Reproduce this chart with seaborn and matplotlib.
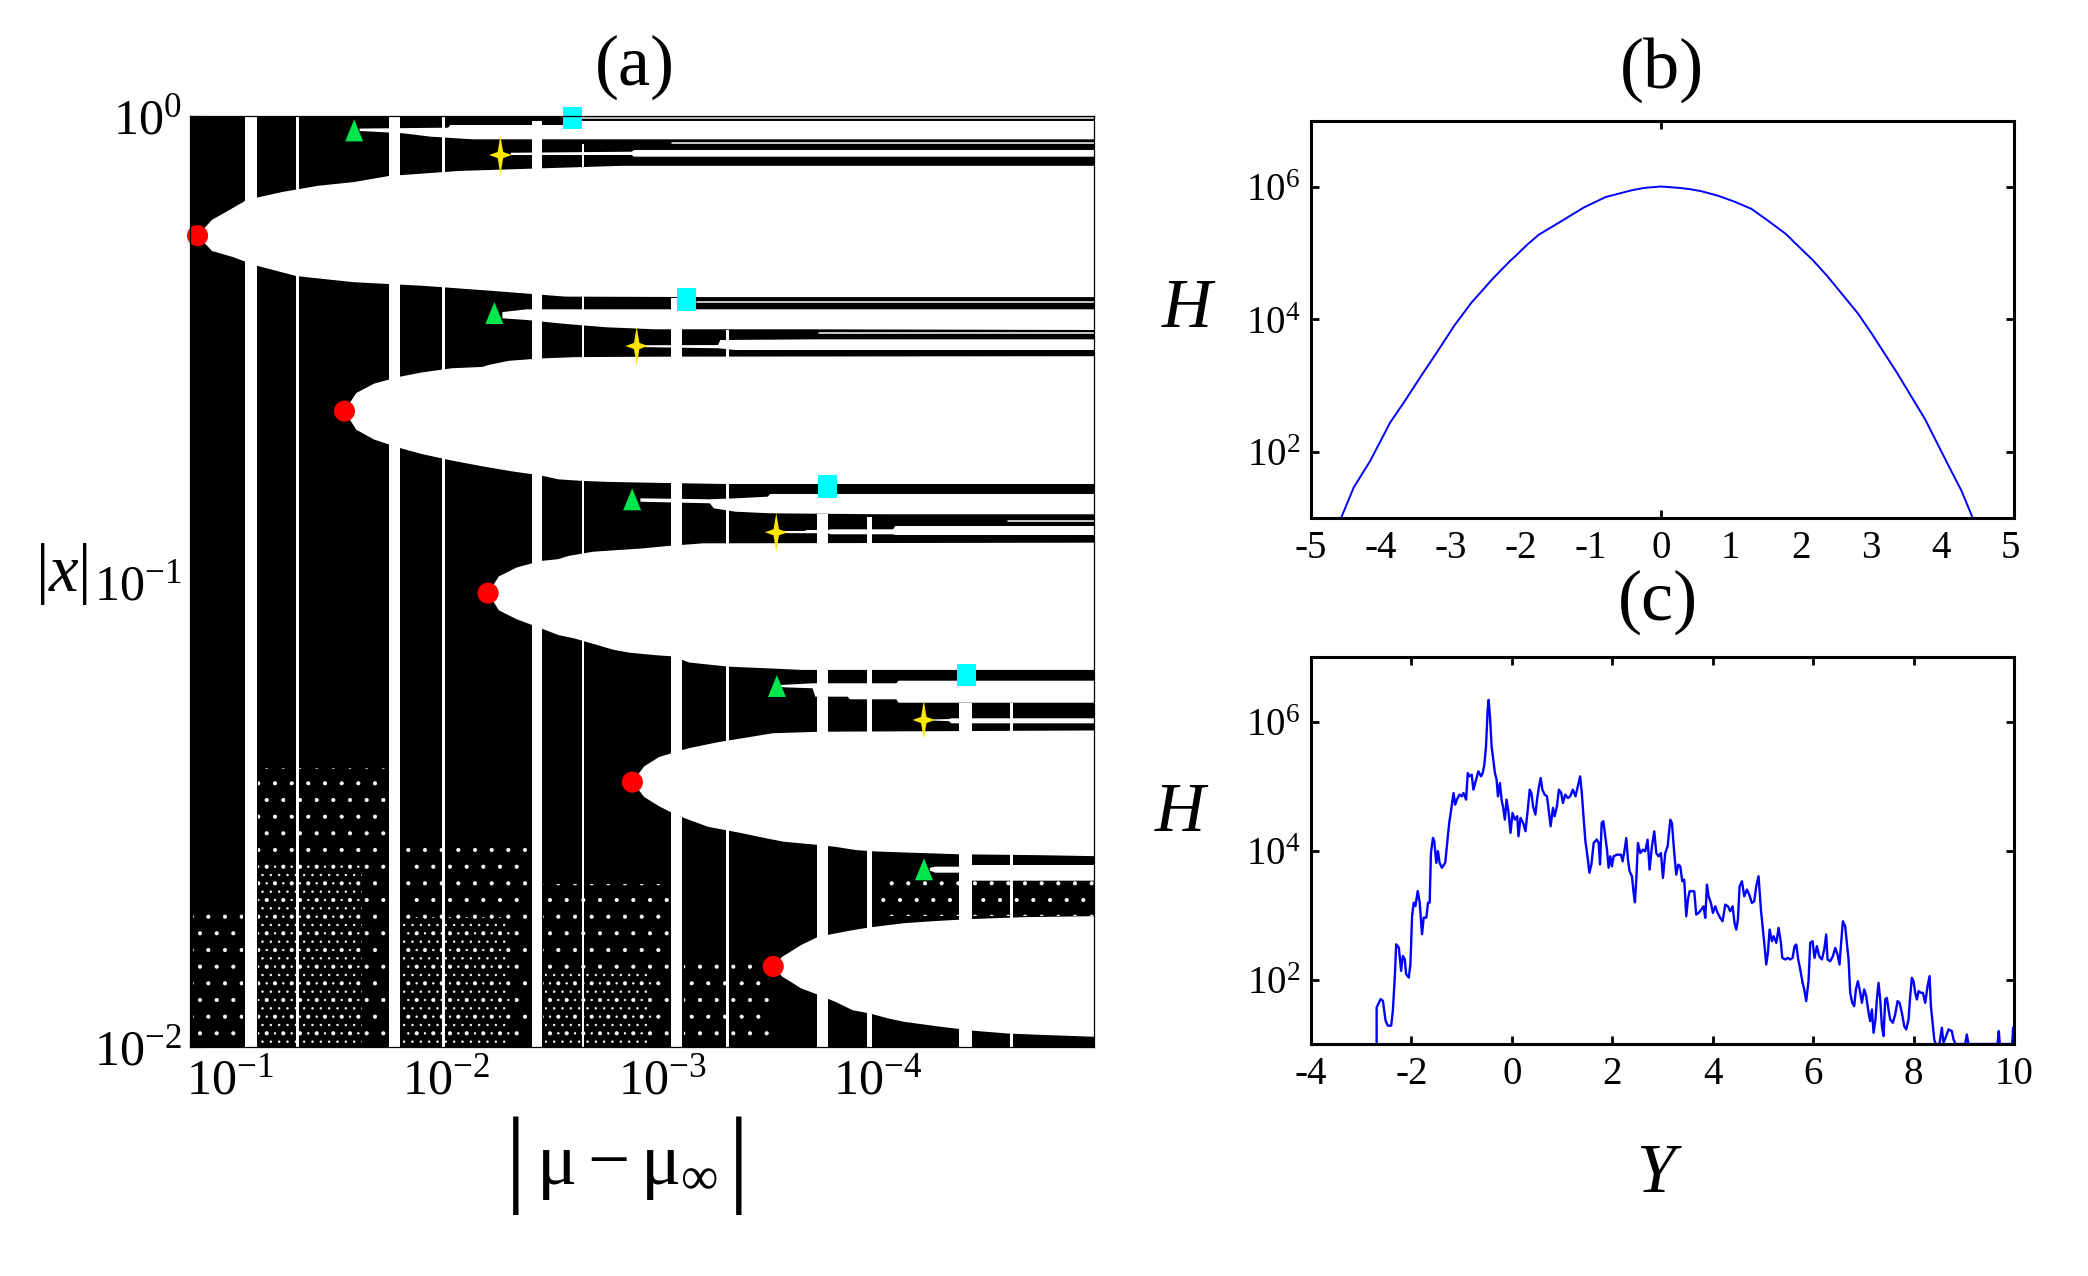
import numpy as np
import matplotlib
matplotlib.use("Agg")
import matplotlib.pyplot as plt
import seaborn as sns
from matplotlib.path import Path
from matplotlib.ticker import (FixedLocator, LogLocator, NullLocator,
                               NullFormatter, LogFormatterSciNotation)

sns.set_style("ticks")
plt.rcParams["font.family"] = ["Liberation Serif", "DejaVu Serif"]
plt.rcParams["mathtext.fontset"] = "custom"
plt.rcParams["mathtext.rm"] = "Liberation Serif"
plt.rcParams["mathtext.it"] = "Liberation Serif:italic"
plt.rcParams["mathtext.bf"] = "Liberation Serif:bold"
plt.rcParams["axes.unicode_minus"] = False
plt.rcParams["axes.edgecolor"] = "black"
plt.rcParams["xtick.color"] = "black"
plt.rcParams["ytick.color"] = "black"
plt.rcParams["text.color"] = "black"
plt.rcParams["hatch.color"] = "white"
plt.rcParams["hatch.linewidth"] = 0.5

# ---------------- panel (a): values in log10 units (|mu - mu_inf|, |x|) ----------------
# white lobes opening from the red points
lobe1_up_mu = [-0.850, -0.917, -0.982, -1.079, -1.245, -1.406, -1.573, -1.734, -2.062, -2.815, -5.0]
lobe1_up_x = [-0.257, -0.223, -0.206, -0.180, -0.163, -0.150, -0.142, -0.129, -0.118, -0.107, -0.107]
lobe1_lo_mu = [-0.850, -0.917, -1.014, -1.111, -1.309, -1.573, -1.901, -2.224, -2.552, -3.208, -5.0]
lobe1_lo_x = [-0.257, -0.290, -0.303, -0.320, -0.344, -0.357, -0.365, -0.376, -0.388, -0.389, -0.389]

lobe2_up_mu = [-1.530, -1.585, -1.667, -1.777, -1.887, -2.025, -2.169, -2.196, -2.290, -2.430, -2.600, -3.000, -5.0]
lobe2_up_x = [-0.634, -0.595, -0.575, -0.561, -0.551, -0.542, -0.539, -0.535, -0.526, -0.521, -0.518, -0.517, -0.516]
lobe2_lo_mu = [-1.530, -1.585, -1.667, -1.777, -1.887, -2.025, -2.162, -2.300, -2.437, -2.520, -2.635, -2.750, -2.850, -3.100, -3.300, -5.0]
lobe2_lo_x = [-0.634, -0.674, -0.695, -0.712, -0.726, -0.740, -0.752, -0.763, -0.772, -0.7805, -0.784, -0.786, -0.787, -0.789, -0.7906, -0.7906]

lobe3_up_mu = [-2.195, -2.245, -2.327, -2.437, -2.520, -2.568, -2.681, -2.811, -2.908, -3.020, -3.190, -5.0]
lobe3_up_x = [-1.025, -0.989, -0.970, -0.956, -0.952, -0.945, -0.936, -0.932, -0.929, -0.924, -0.918, -0.9166]
lobe3_lo_mu = [-2.195, -2.245, -2.327, -2.437, -2.520, -2.592, -2.697, -2.778, -2.851, -2.964, -3.053, -3.125, -3.206, -3.311, -3.513, -3.650, -5.0]
lobe3_lo_x = [-1.025, -1.062, -1.081, -1.100, -1.115, -1.122, -1.136, -1.147, -1.153, -1.158, -1.161, -1.174, -1.178, -1.183, -1.187, -1.190, -1.190]

lobe4_up_mu = [-2.863, -2.918, -2.987, -3.125, -3.262, -3.368, -3.513, -3.730, -5.0]
lobe4_up_x = [-1.431, -1.397, -1.377, -1.358, -1.345, -1.337, -1.326, -1.3227, -1.320]
lobe4_lo_mu = [-2.863, -2.918, -2.987, -3.060, -3.125, -3.214, -3.294, -3.373, -3.485, -3.564, -3.724, -3.803, -3.899, -3.994, -4.146, -4.377, -4.759, -5.0]
lobe4_lo_x = [-1.431, -1.463, -1.483, -1.500, -1.512, -1.527, -1.534, -1.541, -1.552, -1.559, -1.566, -1.570, -1.577, -1.580, -1.5825, -1.586, -1.588, -1.590]

lobe5_up_mu = [-3.515, -3.557, -3.596, -3.644, -3.724, -3.803, -3.883, -3.963, -4.122, -4.281, -4.441, -4.680, -5.0]
lobe5_up_x = [-1.827, -1.806, -1.795, -1.781, -1.763, -1.756, -1.749, -1.743, -1.734, -1.729, -1.725, -1.721, -1.719]
lobe5_lo_mu = [-3.515, -3.557, -3.596, -3.644, -3.724, -3.803, -3.883, -3.963, -4.042, -4.122, -4.281, -4.441, -4.600, -4.759, -5.0]
lobe5_lo_x = [-1.827, -1.849, -1.860, -1.874, -1.888, -1.903, -1.921, -1.928, -1.938, -1.946, -1.956, -1.965, -1.971, -1.974, -1.978]

# thinner white gaps opening from the green triangles
gw1_up_mu = [-1.600, -2.010, -2.020, -2.540, -2.550, -5.0]
gw1_up_x = [-0.0270, -0.0251, -0.0193, -0.0193, -0.0107, -0.0107]
gw1_lo_mu = [-1.600, -1.665, -1.803, -1.929, -2.125, -5.0]
gw1_lo_x = [-0.0322, -0.0337, -0.0372, -0.0444, -0.0501, -0.0501]

gw2_up_mu = [-2.261, -2.373, -5.0]
gw2_up_x = [-0.4213, -0.4153, -0.4153]
gw2_lo_mu = [-2.261, -2.373, -2.521, -2.614, -2.744, -2.966, -3.690, -5.0]
gw2_lo_x = [-0.4346, -0.4382, -0.4453, -0.4490, -0.4539, -0.4582, -0.4582, -0.4597]

gw3_up_mu = [-2.900, -3.220, -3.340, -3.490, -3.500, -5.0]
gw3_up_x = [-0.8213, -0.8234, -0.8213, -0.8178, -0.8120, -0.8120]
gw3_lo_mu = [-2.900, -3.222, -3.240, -3.340, -3.500, -4.030, -5.0]
gw3_lo_x = [-0.8286, -0.8320, -0.8428, -0.8500, -0.8535, -0.8556, -0.8556]

gw4_up_mu = [-3.550, -3.697, -4.085, -4.095, -5.0]
gw4_up_x = [-1.2223, -1.2187, -1.2187, -1.2131, -1.2131]
gw4_lo_mu = [-3.550, -3.697, -3.710, -3.859, -3.870, -4.085, -4.095, -5.0]
gw4_lo_x = [-1.2270, -1.2294, -1.2474, -1.2474, -1.2531, -1.2531, -1.2604, -1.2604]

gw5_up_mu = [-4.240, -4.265, -4.377, -4.390, -5.0]
gw5_up_x = [-1.6150, -1.6126, -1.6126, -1.6090, -1.6090]
gw5_lo_mu = [-4.240, -4.265, -4.377, -4.390, -5.0]
gw5_lo_x = [-1.6210, -1.6255, -1.6255, -1.6427, -1.6427]

# gaps opening from the yellow stars
yw1_up_mu = [-2.300, -2.860, -2.870, -5.0]
yw1_up_x = [-0.0790, -0.0767, -0.0730, -0.0730]
yw1_lo_mu = [-2.300, -2.860, -2.870, -5.0]
yw1_lo_x = [-0.0838, -0.0838, -0.0874, -0.0874]

yw2_up_mu = [-2.920, -3.260, -3.270, -3.700, -5.0]
yw2_up_x = [-0.4925, -0.4920, -0.4812, -0.4798, -0.4798]
yw2_lo_mu = [-2.920, -3.260, -3.340, -5.0]
yw2_lo_x = [-0.4965, -0.4990, -0.5027, -0.5027]

yw3_up_mu = [-3.560, -3.660, -3.670, -3.770, -3.780, -4.070, -4.080, -5.0]
yw3_up_x = [-0.8915, -0.8915, -0.8894, -0.8894, -0.8879, -0.8879, -0.8808, -0.8808]
yw3_lo_mu = [-3.560, -3.770, -3.780, -4.070, -4.080, -5.0]
yw3_lo_x = [-0.8960, -0.8965, -0.8986, -0.8986, -0.9001, -0.9001]

yw4_up_mu = [-4.240, -4.328, -4.340, -5.0]
yw4_up_x = [-1.2965, -1.2955, -1.2939, -1.2939]
yw4_lo_mu = [-4.240, -4.328, -4.340, -5.0]
yw4_lo_x = [-1.2985, -1.3000, -1.3047, -1.3047]

# hair-thin white lines running to the right edge
thin_mu_start = [-2.630, -3.046, -3.162, -3.727, -4.603]
thin_mu_end = [-5.0, -5.0, -5.0, -5.0, -5.0]
thin_x = [-0.0049, -0.0580, -0.3990, -0.4660, -0.8694]

# vertical periodic windows (white stripes)
stripe_mu_a = [-1.070, -1.304, -1.737, -1.980, -2.397, -2.628, -3.044, -3.295, -3.718, -3.950, -4.375, -4.612]
stripe_mu_b = [-1.126, -1.318, -1.789, -1.994, -2.445, -2.638, -3.093, -3.309, -3.770, -3.970, -4.435, -4.626]
stripe_x_top = [0.0, 0.0, 0.0, 0.0, -0.011, -0.060, -0.392, -0.460, -0.855, -0.862, -1.262, -1.262]

# speckled (chaotic) areas near the bottom
speck_mu_a = [-0.830, -1.130, -1.795, -2.450, -3.100, -4.000]
speck_mu_b = [-1.062, -1.735, -2.395, -3.040, -3.500, -5.0]
speck_x_top = [-1.70, -1.40, -1.55, -1.65, -1.80, -1.6427]
speck_x_bot = [-2.0, -2.0, -2.0, -2.0, -2.0, -1.719]
dense_mu_a = [-1.130, -1.800, -2.460]
dense_mu_b = [-1.610, -2.300, -2.950]
dense_x_top = [-1.60, -1.72, -1.84]

# markers
red_mu = [-0.850, -1.530, -2.195, -2.863, -3.515]
red_x = [-0.257, -0.634, -1.025, -1.431, -1.827]
green_mu = [-1.575, -2.224, -2.862, -3.532, -4.213]
green_x = [-0.031, -0.4232, -0.8234, -1.2245, -1.6183]
cyan_mu = [-2.584, -3.115, -3.768, -4.409]
cyan_x = [-0.0049, -0.3946, -0.7963, -1.2015]
yellow_mu = [-2.252, -2.883, -3.529, -4.212]
yellow_x = [-0.0838, -0.4941, -0.8943, -1.2975]

# ---------------- panel (b) ----------------
hb_Y = [-4.57, -4.39, -4.15, -3.87, -3.67, -3.43, -3.19, -2.95, -2.71, -2.39, -2.15, -2.066,
        -1.91, -1.745, -1.43, -1.105, -0.79, -0.464, -0.384, -0.224, 0.00, 0.256, 0.416,
        0.576, 0.82, 1.057, 1.30, 1.537, 1.78, 2.18, 2.378, 2.58, 2.82, 3.02, 3.38, 3.78,
        4.10, 4.30, 4.46]
hb_logH = [1.00, 1.46, 1.87, 2.44, 2.75, 3.14, 3.52, 3.91, 4.25, 4.63, 4.89, 4.97,
           5.13, 5.28, 5.48, 5.69, 5.85, 5.94, 5.96, 5.99, 6.01, 5.99, 5.97,
           5.94, 5.87, 5.78, 5.67, 5.49, 5.30, 4.89, 4.66, 4.40, 4.09, 3.78, 3.19, 2.49,
           1.82, 1.41, 1.00]

# ---------------- panel (c) ----------------
hc_Y = [
    -2.693, -2.693, -2.614, -2.568, -2.515, -2.469, -2.403, -2.370, -2.330, -2.304,
    -2.251, -2.205, -2.172, -2.132, -2.106, -2.053, -2.020, -1.987, -1.954, -1.921,
    -1.875, -1.835, -1.789, -1.756, -1.703, -1.670, -1.637, -1.611, -1.571, -1.545,
    -1.505, -1.472, -1.439, -1.393, -1.327, -1.294, -1.248, -1.208, -1.162, -1.129,
    -1.096, -1.043, -0.997, -0.964, -0.911, -0.878, -0.845, -0.799, -0.766, -0.713,
    -0.667, -0.614, -0.581, -0.548, -0.515, -0.482, -0.462, -0.436, -0.403, -0.370,
    -0.337, -0.304, -0.277, -0.238, -0.205, -0.172, -0.139, -0.106, -0.073, -0.026,
    0.013, 0.059, 0.106, 0.132, 0.172, 0.224, 0.271, 0.310, 0.356, 0.389,
    0.422, 0.469, 0.502, 0.541, 0.574, 0.607, 0.653, 0.700, 0.739, 0.772,
    0.818, 0.851, 0.898, 0.937, 0.983, 1.017, 1.063, 1.116, 1.162, 1.215,
    1.267, 1.314, 1.360, 1.393, 1.426, 1.465, 1.505, 1.545, 1.584, 1.630,
    1.690, 1.729, 1.756, 1.789, 1.822, 1.861, 1.894, 1.927, 1.960, 1.993,
    2.027, 2.093, 2.173, 2.206, 2.246, 2.279, 2.312, 2.345, 2.392, 2.425,
    2.451, 2.478, 2.511, 2.557, 2.610, 2.657, 2.703, 2.743, 2.790, 2.836,
    2.876, 2.922, 2.969, 3.009, 3.055, 3.102, 3.155, 3.188, 3.234, 3.274,
    3.314, 3.354, 3.394, 3.433, 3.473, 3.506, 3.539, 3.586, 3.632, 3.672,
    3.719, 3.772, 3.818, 3.852, 3.885, 3.918, 3.964, 4.004, 4.050, 4.097,
    4.150, 4.197, 4.250, 4.303, 4.349, 4.396, 4.435, 4.469, 4.502, 4.535,
    4.581, 4.628, 4.681, 4.727, 4.780, 4.827, 4.867, 4.913, 4.960, 4.993,
    5.026, 5.066, 5.099, 5.133, 5.179, 5.212, 5.266, 5.312, 5.358, 5.385,
    5.445, 5.497, 5.544, 5.591, 5.630, 5.664, 5.703, 5.743, 5.790, 5.823,
    5.862, 5.908, 5.942, 5.988, 6.028, 6.074, 6.121, 6.174, 6.221, 6.260,
    6.287, 6.340, 6.393, 6.440, 6.486, 6.526, 6.552, 6.592, 6.638, 6.672,
    6.705, 6.738, 6.778, 6.818, 6.851, 6.891, 6.938, 6.971, 7.017, 7.057,
    7.104, 7.136, 7.170, 7.203, 7.242, 7.269, 7.302, 7.336, 7.369, 7.402,
    7.435, 7.468, 7.501, 7.534, 7.587, 7.634, 7.681, 7.721, 7.767, 7.814,
    7.854, 7.900, 7.933, 7.966, 8.000, 8.033, 8.066, 8.099, 8.146, 8.186,
    8.232, 8.279, 8.319, 8.345, 8.378, 8.412, 8.438, 8.516, 8.563, 8.596,
    8.649, 8.695, 8.762, 8.795, 8.835, 9.027, 9.060, 9.093, 9.671, 9.697,
    9.717, 9.963, 9.983, 10.0]
hc_logH = [
    1.000, 1.567, 1.696, 1.670, 1.361, 1.284, 1.284, 1.515, 2.057, 2.546,
    2.495, 2.134, 2.366, 2.314, 2.082, 2.031, 2.237, 2.985, 3.191, 3.139,
    3.371, 3.191, 2.701, 2.959, 2.959, 3.191, 3.191, 3.964, 4.196, 4.144,
    3.809, 3.990, 3.809, 3.732, 3.809, 4.067, 4.428, 4.634, 4.892, 4.711,
    4.789, 4.866, 4.840, 4.892, 4.789, 5.201, 5.149, 5.175, 4.943, 5.098,
    5.227, 5.149, 5.201, 5.330, 5.613, 6.180, 6.335, 6.077, 5.613, 5.407,
    5.201, 5.098, 4.840, 5.046, 4.789, 4.660, 4.479, 4.789, 4.634, 4.273,
    4.582, 4.479, 4.531, 4.221, 4.505, 4.428, 4.299, 4.582, 4.943, 4.892,
    4.686, 4.557, 4.789, 4.995, 5.124, 4.943, 4.866, 4.840, 4.582, 4.376,
    4.660, 4.531, 4.686, 4.943, 4.892, 4.737, 4.866, 4.814, 4.840, 4.943,
    4.840, 4.995, 5.149, 4.892, 4.531, 4.144, 3.912, 3.655, 3.784, 4.118,
    4.170, 4.118, 3.784, 4.428, 4.454, 4.221, 4.015, 3.732, 3.910, 3.755,
    3.910, 3.935, 3.935, 3.832, 4.013, 4.194, 3.858, 3.677, 3.600, 3.342,
    3.197, 3.548, 4.116, 3.961, 4.013, 3.987, 4.168, 3.703, 4.065, 4.297,
    3.961, 3.910, 3.961, 3.574, 3.961, 4.065, 4.477, 4.426, 3.961, 3.626,
    3.781, 3.755, 3.523, 3.548, 2.981, 3.239, 3.368, 3.368, 3.368, 3.007,
    3.032, 3.084, 3.135, 2.955, 3.471, 3.290, 3.187, 3.032, 3.135, 3.032,
    2.955, 2.903, 3.161, 3.135, 3.058, 3.135, 2.877, 2.774, 2.929, 3.445,
    3.523, 3.290, 3.394, 3.316, 3.187, 3.213, 3.445, 3.600, 3.084, 2.826,
    2.568, 2.232, 2.413, 2.774, 2.594, 2.671, 2.568, 2.800, 2.568, 2.335,
    2.310, 2.335, 2.310, 2.335, 2.516, 2.542, 2.310, 2.155, 1.948, 1.845,
    1.665, 1.974, 2.568, 2.594, 2.335, 2.516, 2.361, 2.310, 2.465, 2.697,
    2.310, 2.284, 2.361, 2.490, 2.387, 2.232, 2.516, 2.903, 2.826, 2.568,
    2.310, 1.794, 1.639, 1.587, 1.845, 1.974, 1.794, 1.639, 1.845, 1.742,
    1.484, 1.355, 1.535, 1.174, 1.381, 1.690, 1.948, 1.690, 1.277, 1.123,
    1.690, 1.716, 1.535, 1.381, 1.329, 1.458, 1.665, 1.639, 1.484, 1.277,
    1.226, 1.381, 1.742, 2.026, 1.974, 1.794, 1.690, 1.819, 1.794, 1.794,
    1.639, 1.897, 2.052, 1.587, 1.329, 1.071, 1.000, 1.000, 1.252, 1.019,
    1.123, 1.226, 1.200, 1.071, 1.000, 1.000, 1.148, 1.000, 1.000, 1.200,
    1.000, 1.000, 1.252, 1.000]


def lin(a):
    return np.power(10.0, np.asarray(a, dtype=float))


W, H = 2088, 1276


def box(l, t, r, b):
    return [l / W, 1 - b / H, (r - l) / W, (b - t) / H]


fig = plt.figure(figsize=(W / 100, H / 100), dpi=100)
ax_a = fig.add_axes(box(190, 116, 1094, 1047))
ax_b = fig.add_axes(box(1311, 121, 2014, 518))
ax_c = fig.add_axes(box(1311, 657, 2014, 1044))

# ---- panel (a) ----
ax_a.set_xscale("log")
ax_a.set_yscale("log")
ax_a.set_facecolor("black")


def white_patch(up_mu, up_x, lo_mu, lo_x, z=2):
    xs = np.concatenate([lin(up_mu), lin(lo_mu)[::-1]])
    ys = np.concatenate([lin(up_x), lin(lo_x)[::-1]])
    ax_a.fill(xs, ys, color="white", lw=0, zorder=z)


for a, b, t, bt in zip(speck_mu_a, speck_mu_b, speck_x_top, speck_x_bot):
    ax_a.fill(lin([a, b, b, a]), lin([t, t, bt, bt]), facecolor="none",
              edgecolor="white", hatch=".", lw=0, zorder=1)
for a, b, t in zip(dense_mu_a, dense_mu_b, dense_x_top):
    ax_a.fill(lin([a, b, b, a]), lin([t, t, -2.0, -2.0]), facecolor="none",
              edgecolor="white", hatch="..", lw=0, zorder=1)

for a, b, t in zip(stripe_mu_a, stripe_mu_b, stripe_x_top):
    ax_a.fill_between(lin([a, b]), 1e-2, 10.0 ** t, color="white", lw=0, zorder=1.5)

shapes = [
    (lobe1_up_mu, lobe1_up_x, lobe1_lo_mu, lobe1_lo_x),
    (lobe2_up_mu, lobe2_up_x, lobe2_lo_mu, lobe2_lo_x),
    (lobe3_up_mu, lobe3_up_x, lobe3_lo_mu, lobe3_lo_x),
    (lobe4_up_mu, lobe4_up_x, lobe4_lo_mu, lobe4_lo_x),
    (lobe5_up_mu, lobe5_up_x, lobe5_lo_mu, lobe5_lo_x),
    (gw1_up_mu, gw1_up_x, gw1_lo_mu, gw1_lo_x),
    (gw2_up_mu, gw2_up_x, gw2_lo_mu, gw2_lo_x),
    (gw3_up_mu, gw3_up_x, gw3_lo_mu, gw3_lo_x),
    (gw4_up_mu, gw4_up_x, gw4_lo_mu, gw4_lo_x),
    (gw5_up_mu, gw5_up_x, gw5_lo_mu, gw5_lo_x),
    (yw1_up_mu, yw1_up_x, yw1_lo_mu, yw1_lo_x),
    (yw2_up_mu, yw2_up_x, yw2_lo_mu, yw2_lo_x),
    (yw3_up_mu, yw3_up_x, yw3_lo_mu, yw3_lo_x),
    (yw4_up_mu, yw4_up_x, yw4_lo_mu, yw4_lo_x),
]
for s in shapes:
    white_patch(*s)

for m0, m1, xv in zip(thin_mu_start, thin_mu_end, thin_x):
    ax_a.plot(lin([m0, m1]), lin([xv, xv]), color="white", lw=1.1, zorder=2.2)

# marker shapes
star = Path([(0, 1.0), (0.14, 0.16), (0.58, 0.0), (0.14, -0.16), (0, -1.0),
             (-0.14, -0.16), (-0.58, 0.0), (-0.14, 0.16), (0, 1.0)], closed=True)
rect = Path([(-0.42, -0.5), (0.42, -0.5), (0.42, 0.5), (-0.42, 0.5), (-0.42, -0.5)], closed=True)
tri = Path([(0, 0.5), (-0.41, -0.5), (0.41, -0.5), (0, 0.5)], closed=True)

sns.scatterplot(x=lin(red_mu), y=lin(red_x), marker="o", s=230, color="#ff0000",
                edgecolor="none", ax=ax_a, zorder=5, clip_on=False, legend=False)
sns.scatterplot(x=lin(green_mu), y=lin(green_x), marker=tri, s=250, color="#00e64d",
                edgecolor="none", ax=ax_a, zorder=5, clip_on=False, legend=False)
sns.scatterplot(x=lin(cyan_mu), y=lin(cyan_x), marker=rect, s=260, color="#00ffff",
                edgecolor="none", ax=ax_a, zorder=5, clip_on=False, legend=False)
sns.scatterplot(x=lin(yellow_mu), y=lin(yellow_x), marker=star, s=780, color="#ffe600",
                edgecolor="none", ax=ax_a, zorder=5, clip_on=False, legend=False)

ax_a.set_xlim(10 ** -0.815, 1e-5)
ax_a.set_ylim(1e-2, 1.0)
ax_a.set_xlabel("")
ax_a.set_ylabel("")
ax_a.xaxis.set_major_locator(FixedLocator([1e-1, 1e-2, 1e-3, 1e-4]))
ax_a.xaxis.set_major_formatter(LogFormatterSciNotation())
ax_a.xaxis.set_minor_locator(LogLocator(base=10, subs=np.arange(2, 10), numticks=100))
ax_a.xaxis.set_minor_formatter(NullFormatter())
ax_a.yaxis.set_major_locator(FixedLocator([1e-2, 1e-1, 1.0]))
ax_a.yaxis.set_major_formatter(LogFormatterSciNotation())
ax_a.yaxis.set_minor_locator(LogLocator(base=10, subs=np.arange(2, 10), numticks=100))
ax_a.yaxis.set_minor_formatter(NullFormatter())
ax_a.tick_params(which="both", direction="in", top=True, right=True, labelsize=36)
ax_a.tick_params(which="major", length=9, width=0.8)
ax_a.tick_params(which="minor", length=4.5, width=0.6)
ax_a.tick_params(axis="x", pad=8)
ax_a.tick_params(axis="y", pad=6)
for sp in ax_a.spines.values():
    sp.set_linewidth(0.9)
    sp.set_zorder(6)

# ---- panel (b) ----
ax_b.set_yscale("log")
sns.lineplot(x=hb_Y, y=lin(hb_logH), ax=ax_b, color="blue", lw=1.4,
             estimator=None, sort=False, zorder=2)
ax_b.set_xlim(-5, 5.05)
ax_b.set_ylim(10, 1e7)

# ---- panel (c) ----
ax_c.set_yscale("log")
sns.lineplot(x=hc_Y, y=lin(hc_logH), ax=ax_c, color="blue", lw=1.7,
             estimator=None, sort=False, zorder=2)
ax_c.set_xlim(-4, 10)
ax_c.set_ylim(10, 1e7)

for ax in (ax_b, ax_c):
    ax.set_xlabel("")
    ax.set_ylabel("")
    ax.yaxis.set_major_locator(FixedLocator([1e2, 1e4, 1e6]))
    ax.yaxis.set_major_formatter(LogFormatterSciNotation())
    ax.yaxis.set_minor_locator(NullLocator())
    ax.tick_params(axis="y", which="major", direction="in", left=True, right=True,
                   length=6, width=2, labelsize=28, pad=8)
    for sp in ax.spines.values():
        sp.set_linewidth(2.2)

ax_b.set_xticks(range(-5, 6))
ax_b.tick_params(axis="x", which="major", length=0, labelsize=28, pad=9)
ax_b.xaxis.remove_overlapping_locs = False
ax_b.set_xticks([0], minor=True)
ax_b.tick_params(axis="x", which="minor", direction="in", top=True, bottom=True,
                 length=6, width=2)

ax_c.set_xticks(range(-4, 11, 2))
ax_c.tick_params(axis="x", which="major", direction="in", top=True, bottom=True,
                 length=6, width=2, labelsize=28, pad=9)

# ---- labels ----
fig.text(635 / W, 1 - 67 / H, "(a)", ha="center", va="center", fontsize=52)
fig.text(1662 / W, 1 - 70 / H, "(b)", ha="center", va="center", fontsize=52)
fig.text(1658 / W, 1 - 602 / H, "(c)", ha="center", va="center", fontsize=52)
fig.text(62 / W, 1 - 574 / H, r"$|x|$", ha="center", va="center", fontsize=48)
fig.text(1187 / W, 1 - 310 / H, "H", ha="center", va="center", fontsize=50, style="italic")
fig.text(1180 / W, 1 - 814 / H, "H", ha="center", va="center", fontsize=50, style="italic")
fig.text(1655 / W, 1 - 1175 / H, "Y", ha="center", va="center", fontsize=50, style="italic")
fig.text(516 / W, 1 - 1166 / H, "|", ha="center", va="center", fontsize=78)
fig.text(739 / W, 1 - 1166 / H, "|", ha="center", va="center", fontsize=78)
fig.text(627 / W, 1 - 1168 / H, r"$\mathregular{μ - μ_{∞}}$",
         ha="center", va="center", fontsize=54)

fig.savefig("out.png", dpi=100)
